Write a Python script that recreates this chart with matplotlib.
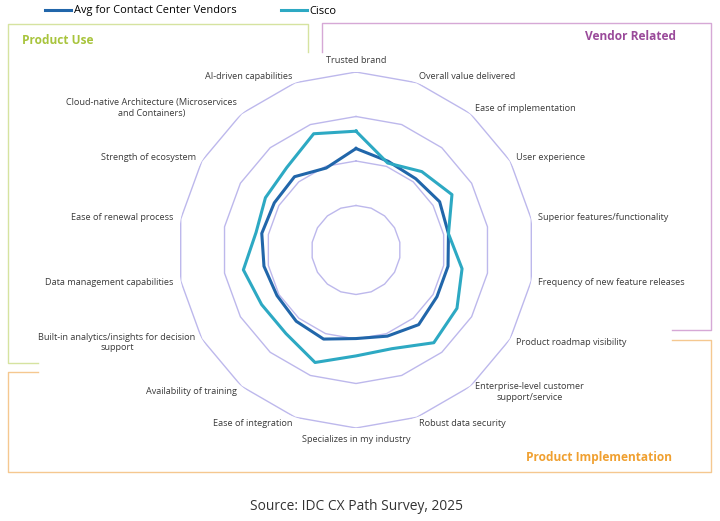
import numpy as np
import matplotlib
matplotlib.use("Agg")
from matplotlib import pyplot as plt
from matplotlib.lines import Line2D

plt.rcParams['font.family'] = ['Open Sans', 'DejaVu Sans']

categories = [
    "Trusted brand",
    "Overall value delivered",
    "Ease of implementation",
    "User experience",
    "Superior features/functionality",
    "Frequency of new feature releases",
    "Product roadmap visibility",
    "Enterprise-level customer\nsupport/service",
    "Robust data security",
    "Specializes in my industry",
    "Ease of integration",
    "Availability of training",
    "Built-in analytics/insights for decision\nsupport",
    "Data management capabilities",
    "Ease of renewal process",
    "Strength of ecosystem",
    "Cloud-native Architecture (Microservices\nand Containers)",
    "AI-driven capabilities",
]

avg_vendors = [2.28, 2.12, 2.09, 2.17, 2.11, 2.10, 2.10, 2.19, 2.06, 1.99,
               2.13, 2.09, 2.05, 2.10, 2.15, 2.12, 2.15, 1.96]
cisco = [2.67, 2.08, 2.30, 2.49, 2.11, 2.42, 2.62, 2.72, 2.36, 2.38,
         2.69, 2.45, 2.45, 2.57, 2.28, 2.35, 2.42, 2.78]

ring_levels = [1, 2, 3, 4]
series_names = ["Avg for Contact Center Vendors", "Cisco"]

W, H = 720, 521
fig = plt.figure(figsize=(W / 100, H / 100), dpi=100)

# polar axes: centre at (356, 250) px, outer ring radius 178 px
cx, cy, R = 356, 250, 178
ax = fig.add_axes([(cx - R) / W, (H - cy - R) / H, 2 * R / W, 2 * R / H],
                  projection='polar')
ax.set_theta_zero_location('N')
ax.set_theta_direction(-1)
ax.set_ylim(0, 4)

n = len(categories)
theta = np.linspace(0, 2 * np.pi, n, endpoint=False)
theta_c = np.append(theta, theta[0])

# polygon gridlines
for lv in ring_levels:
    ax.plot(theta_c, [lv] * (n + 1), color='#bdb8ec', lw=1.0, zorder=1)

ax.plot(theta_c, avg_vendors + avg_vendors[:1], color='#2166aa', lw=2.2,
        label=series_names[0], zorder=3)
ax.plot(theta_c, cisco + cisco[:1], color='#2da9c3', lw=2.2,
        label=series_names[1], zorder=3)

ax.set_xticks([])
ax.set_yticks([])
ax.grid(False)
ax.spines['polar'].set_visible(False)
ax.patch.set_alpha(0)

# category labels
for t, lab in zip(theta, categories):
    deg = np.degrees(t)
    if np.isclose(deg, 0):
        ha, va = 'center', 'bottom'
    elif np.isclose(deg, 180):
        ha, va = 'center', 'top'
    elif deg < 180:
        ha, va = 'left', 'center'
    else:
        ha, va = 'right', 'center'
    ax.text(t, 4.16, lab, ha=ha, va=va, multialignment='center',
            fontsize=6.6, color='#3b3b3b', clip_on=False)

# legend
fig.legend(loc='center', bbox_to_anchor=(191 / W, 1 - 11 / H), ncol=2,
           frameon=False, fontsize=7.9, handlelength=2.3, handletextpad=0.27,
           columnspacing=4.1)


def px_line(xs, ys, color):
    fig.add_artist(Line2D([x / W for x in xs], [1 - y / H for y in ys],
                          color=color, lw=1.0, transform=fig.transFigure))


# group boxes
px_line([38, 8, 8, 308, 308], [363, 363, 24, 24, 52], '#d6e3a0')
px_line([322, 322, 711, 711, 672], [52, 23, 23, 330, 330], '#d6a8d6')
px_line([672, 711, 711, 8, 8, 38], [340, 340, 472, 472, 372, 372], '#f5c890')

fig.text(22 / W, 1 - 41 / H, "Product Use", color='#a8c43c', fontsize=8.6,
         fontweight='bold', ha='left', va='center')
fig.text(676 / W, 1 - 37 / H, "Vendor Related", color='#9a4a9a', fontsize=8.6,
         fontweight='bold', ha='right', va='center')
fig.text(672 / W, 1 - 457 / H, "Product Implementation", color='#f0a030',
         fontsize=8.6, fontweight='bold', ha='right', va='center')

fig.text(357 / W, 1 - 506 / H, "Source: IDC CX Path Survey, 2025",
         color='#333333', fontsize=9.9, ha='center', va='center')

fig.savefig("out.png", dpi=100, facecolor='white')
